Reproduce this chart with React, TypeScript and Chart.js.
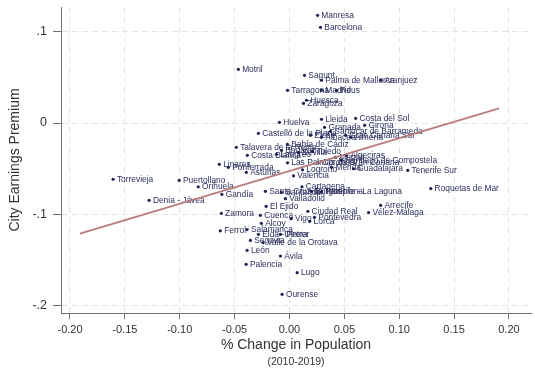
import React, { useEffect, useRef } from 'react';
import { Chart, registerables } from 'chart.js';
Chart.register(...registerables);

const CITY_NAMES = [
  'Manresa', 'Barcelona', 'Motril', 'Sagunt', 'Palma de Mallorca', 'Aranjuez',
  'Tarragona', 'Madrid', 'Reus', 'Huesca', 'Zaragoza', 'Lleida', 'Costa del Sol',
  'Huelva', 'Granada', 'Girona', 'Castelló de la Plana', 'Sanlúcar de Barrameda',
  'Elche', 'Albacete', 'Gran Canaria Sur', 'Almería', 'Talavera de la Reina',
  'Bahía de Cádiz', 'Badajoz', 'Sevilla', 'Toledo', 'Costa Blanca', 'Langreo',
  'Murcia', 'Algeciras', 'Santiago de Compostela', 'Las Palmas de Gran Canaria',
  'Córdoba', 'Mérida', 'Guadalajara', 'Tenerife Sur', 'Logroño', 'Valencia',
  'Linares', 'Ponferrada', 'Asturias', 'Puertollano', 'Torrevieja', 'Orihuela',
  'Denia - Jávea', 'Gandía', 'Santa Cruz de Tenerife - La Laguna', 'Santander',
  'Cartagena', 'Burgos', 'Pamplona', 'Valladolid', 'Roquetas de Mar', 'Arrecife',
  'Vélez-Málaga', 'El Ejido', 'Ciudad Real', 'Zamora', 'Cuenca', 'Vigo',
  'Pontevedra', 'Lorca', 'Alcoy', 'Salamanca', 'Ferrol', 'Elda - Petrer', 'Utrera',
  'Segovia', 'Valle de la Orotava', 'León', 'Ávila', 'Palencia', 'Lugo', 'Ourense',
];

const POP_CHANGE = [
  0.0256, 0.0283, -0.0466, 0.0137, 0.0292, 0.0831,
  -0.0018, 0.0292, 0.0429, 0.0155, 0.0128, 0.0292, 0.0603,
  -0.0091, 0.0320, 0.0685, -0.0283, 0.0374,
  0.0192, 0.0292, 0.0511, 0.0557, -0.0484,
  -0.0018, -0.0073, 0.0082, 0.0210, -0.0384, -0.0119,
  0.0420, 0.0521, 0.0475, -0.0018,
  0.0265, 0.0384, 0.0584, 0.1078, 0.0119, 0.0037,
  -0.0639, -0.0557, -0.0393, -0.1005, -0.1607, -0.0831,
  -0.1279, -0.0616, -0.0219, -0.0073,
  0.0114, 0.0201, 0.0292, -0.0037, 0.1288, 0.0831,
  0.0721, -0.0213, 0.0167, -0.0621, -0.0265, 0.0016,
  0.0228, 0.0185, -0.0256, -0.0386, -0.0630, -0.0283, -0.0082,
  -0.0356, -0.0240, -0.0386, -0.0082, -0.0395, 0.0070, -0.0067,
];

const EARNINGS_PREMIUM = [
  0.1179, 0.1048, 0.0588, 0.0522, 0.0468, 0.0468,
  0.0358, 0.0358, 0.0358, 0.0249, 0.0216, 0.0041, 0.0051,
  0.0008, -0.0047, -0.0025, -0.0113, -0.0091,
  -0.0135, -0.0157, -0.0135, -0.0157, -0.0266,
  -0.0233, -0.0298, -0.0321, -0.0310, -0.0354, -0.0343,
  -0.0376, -0.0354, -0.0408, -0.0436,
  -0.0430, -0.0485, -0.0501, -0.0518, -0.0512, -0.0578,
  -0.0452, -0.0485, -0.0540, -0.0627, -0.0616, -0.0699,
  -0.0846, -0.0781, -0.0748, -0.0759,
  -0.0699, -0.0748, -0.0753, -0.0828, -0.0718, -0.0901,
  -0.0981, -0.0912, -0.0967, -0.0989, -0.1011, -0.1047,
  -0.1033, -0.1076, -0.1098, -0.1167, -0.1180, -0.1219, -0.1219,
  -0.1285, -0.1310, -0.1394, -0.1456, -0.1547, -0.1638, -0.1876,
];

const FIT_X = [-0.191, 0.191];
const FIT_Y = [-0.121, 0.016];

const X_TICKS = [-0.2, -0.15, -0.1, -0.05, 0, 0.05, 0.1, 0.15, 0.2];
const X_TICK_LABELS = ['-0.20', '-0.15', '-0.10', '-0.05', '0.00', '0.05', '0.10', '0.15', '0.20'];
const Y_TICKS = [0.1, 0, -0.1, -0.2];
const Y_TICK_LABELS = ['.1', '0', '-.1', '-.2'];

const X_TITLE = '% Change in Population';
const X_SUBTITLE = '(2010-2019)';
const Y_TITLE = 'City Earnings Premium';

const FONT = '"Liberation Sans", Arial, Helvetica, sans-serif';

export default function App() {
  const ref = useRef<HTMLCanvasElement | null>(null);

  useEffect(() => {
    document.body.style.margin = '0';
    const canvas = ref.current;
    if (!canvas) return;

    const labelPlugin = {
      id: 'pointLabels',
      beforeDatasetsDraw(chart: any) {
        const ctx = chart.ctx;
        const meta = chart.getDatasetMeta(1);
        ctx.save();
        ctx.font = `8.4px ${FONT}`;
        ctx.fillStyle = '#2b2e5e';
        ctx.textBaseline = 'middle';
        ctx.textAlign = 'left';
        meta.data.forEach((el: any, i: number) => {
          ctx.fillText(CITY_NAMES[i], el.x + 3.8, el.y + 0.3);
        });
        ctx.restore();
      },
      afterDraw(chart: any) {
        const ctx = chart.ctx;
        const ca = chart.chartArea;
        ctx.save();
        ctx.font = `10.5px ${FONT}`;
        ctx.fillStyle = '#333333';
        ctx.textAlign = 'center';
        ctx.textBaseline = 'middle';
        ctx.fillText(X_SUBTITLE, (ca.left + ca.right) / 2, 362.5);
        ctx.restore();
      },
    };

    const chart = new Chart(canvas, {
      type: 'scatter',
      data: {
        datasets: [
          {
            type: 'line',
            label: 'Fit',
            data: FIT_X.map((x, i) => ({ x, y: FIT_Y[i] })),
            borderColor: '#b97c7c',
            borderWidth: 1.8,
            pointRadius: 0,
            fill: false,
          } as any,
          {
            type: 'scatter',
            label: 'Cities',
            data: POP_CHANGE.map((x, i) => ({ x, y: EARNINGS_PREMIUM[i] })),
            backgroundColor: '#1d2052',
            borderColor: '#1d2052',
            borderWidth: 0,
            pointRadius: 1.6,
          },
        ],
      },
      options: {
        responsive: false,
        animation: false,
        devicePixelRatio: 1,
        layout: { padding: { top: 7, right: 3, left: 0, bottom: 0 } },
        plugins: {
          legend: { display: false },
          tooltip: { enabled: false },
        },
        scales: {
          x: {
            type: 'linear',
            min: -0.2082,
            max: 0.2201,
            afterBuildTicks: (scale: any) => {
              scale.ticks = X_TICKS.map((v) => ({ value: v }));
            },
            afterFit: (scale: any) => {
              scale.height = 55;
              scale.paddingLeft = 0;
              scale.paddingRight = 0;
            },
            ticks: {
              autoSkip: false,
              maxRotation: 0,
              padding: 4,
              color: '#333333',
              font: { family: FONT, size: 11 },
              callback: (_v: any, i: number) => X_TICK_LABELS[i],
            },
            grid: {
              color: '#e4e4e4',
              tickColor: '#6e6e6e',
              tickLength: 6,
              lineWidth: 1,
            },
            border: { display: true, color: '#6e6e6e', width: 1, dash: [6, 4] },
            title: {
              display: true,
              text: X_TITLE,
              color: '#333333',
              font: { family: FONT, size: 14 },
              padding: { top: 2, bottom: 14 },
            },
          },
          y: {
            type: 'linear',
            min: -0.208,
            max: 0.127,
            afterBuildTicks: (scale: any) => {
              scale.ticks = Y_TICKS.map((v) => ({ value: v }));
            },
            afterFit: (scale: any) => {
              scale.width = 61;
              scale.paddingTop = 0;
              scale.paddingBottom = 0;
            },
            ticks: {
              autoSkip: false,
              padding: 6,
              color: '#333333',
              font: { family: FONT, size: 12.5 },
              callback: (_v: any, i: number) => Y_TICK_LABELS[i],
            },
            grid: {
              color: '#e4e4e4',
              tickColor: '#6e6e6e',
              tickLength: 8,
              lineWidth: 1,
            },
            border: { display: true, color: '#6e6e6e', width: 1, dash: [6, 4] },
            title: {
              display: true,
              text: Y_TITLE,
              color: '#333333',
              font: { family: FONT, size: 14 },
              padding: { top: 7, bottom: 0 },
            },
          },
        },
      },
      plugins: [labelPlugin],
    } as any);

    return () => chart.destroy();
  }, []);

  return (
    <div style={{ position: 'absolute', left: 0, top: 0, width: 535, height: 368, background: '#ffffff' }}>
      <canvas ref={ref} width={535} height={368} style={{ width: 535, height: 368 }} />
    </div>
  );
}
